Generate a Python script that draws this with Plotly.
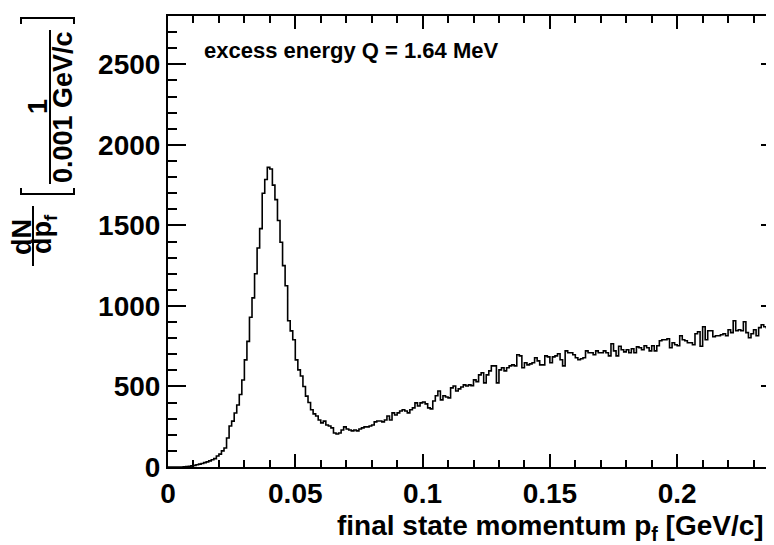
import numpy as np
import plotly.graph_objects as go

# ---------------- data ----------------
bin_width = 0.001          # GeV/c
x_min, x_max = 0.0, 0.24
y_min, y_max = 0, 2800

counts = [
    0, 0, 0, 0, 0, 0, 1, 3, 5, 7,
    10, 14, 18, 22, 27, 32, 38, 45, 52, 68,
    80, 100, 118, 180, 255, 285, 335, 385, 450, 540,
    665, 780, 930, 1050, 1200, 1360, 1480, 1700, 1785, 1860,
    1850, 1750, 1660, 1530, 1395, 1250, 1125, 908, 845, 790,
    665, 603, 565, 500, 440, 400, 355, 330, 317, 292,
    274, 285, 261, 255, 243, 211, 205, 211, 230, 249,
    236, 230, 224, 230, 224, 236, 243, 249, 249, 255,
    261, 280, 286, 286, 280, 292, 317, 292, 336, 323,
    336, 348, 355, 348, 336, 355, 367, 398, 379, 398,
    404, 392, 367, 361, 410, 442, 472, 417, 442, 435,
    429, 491, 503, 472, 485, 497, 510, 503, 510, 505,
    541, 530, 572, 585, 522, 572, 597, 628, 628, 522,
    603, 616, 597, 616, 628, 634, 628, 697, 690, 616,
    647, 634, 640, 647, 678, 659, 634, 634, 690, 684,
    647, 684, 690, 703, 666, 628, 721, 709, 709, 697,
    678, 666, 672, 678, 721, 709, 709, 697, 721, 709,
    709, 721, 709, 690, 765, 721, 690, 750, 728, 715,
    728, 709, 734, 709, 746, 740, 728, 753, 740, 721,
    753, 721, 753, 784, 790, 790, 796, 740, 771, 759,
    753, 815, 790, 784, 771, 771, 759, 827, 840, 750,
    871, 790, 846, 846, 809, 815, 815, 821, 827, 815,
    852, 834, 908, 846, 852, 846, 902, 834, 802, 827,
    852, 815, 865, 883, 871, 865, 877, 871, 890, 905,
]

x_tick_values = [0, 0.05, 0.1, 0.15, 0.2]
x_tick_labels = ["0", "0.05", "0.1", "0.15", "0.2"]
y_tick_values = [0, 500, 1000, 1500, 2000, 2500]
y_tick_labels = ["0", "500", "1000", "1500", "2000", "2500"]

label_text = "excess energy Q = 1.64 MeV"
x_title_text = "final state momentum p<sub>f</sub> [GeV/c]"
y_title_num = "dN"
y_title_den = "dp<sub>f</sub>"
y_unit_num = "1"
y_unit_den = "0.001 GeV/c"

# ---------------- figure ----------------
W, H = 774, 545
L, R, T, B = 160, 3, 8, 86
PW, PH = W - L - R, H - T - B
FONT = "Liberation Sans"


def px(x):
    return (x - L) / PW


def py(y):
    return (H - B - y) / PH


edges = x_min + bin_width * np.arange(len(counts) + 1)
yvals = list(counts) + [counts[-1]]

fig = go.Figure()
fig.add_trace(go.Scatter(
    x=edges, y=yvals, mode="lines", line=dict(color="black", width=1.6, shape="hv"),
    hoverinfo="skip", showlegend=False,
))

axis_common = dict(
    showline=True, linecolor="black", linewidth=2, mirror="allticks",
    ticks="inside", tickcolor="black", tickwidth=1.5,
    showgrid=False, zeroline=False,
    tickfont=dict(family=FONT, size=28, color="black", weight="bold"),
)

fig.update_xaxes(
    range=[x_min, x_max], tickmode="array", tickvals=x_tick_values, ticktext=x_tick_labels,
    ticklen=13, ticklabelstandoff=0,
    minor=dict(ticks="inside", ticklen=7, tickmode="linear", tick0=0, dtick=0.01,
               tickcolor="black", tickwidth=1.5, showgrid=False),
    **axis_common,
)
fig.update_yaxes(
    range=[y_min, y_max], tickmode="array", tickvals=y_tick_values, ticktext=y_tick_labels,
    ticklen=18, ticklabelstandoff=0,
    minor=dict(ticks="inside", ticklen=9, tickmode="linear", tick0=0, dtick=100,
               tickcolor="black", tickwidth=1.5, showgrid=False),
    **axis_common,
)

ann_font = dict(family=FONT, color="black", weight="bold")
annotations = [
    dict(text=label_text, x=px(194), y=py(42), xanchor="left", yanchor="middle",
         font=dict(size=22, **ann_font)),
    dict(text=x_title_text, x=px(758), y=py(519), xanchor="right", yanchor="middle",
         font=dict(size=28, **ann_font)),
    dict(text=y_title_num, x=px(14), y=py(229), textangle=-90, xanchor="center", yanchor="middle",
         font=dict(size=27, **ann_font)),
    dict(text=y_title_den, x=px(36), y=py(226), textangle=-90, xanchor="center", yanchor="middle",
         font=dict(size=27, **ann_font)),
    dict(text=y_unit_num, x=px(30), y=py(99), textangle=-90, xanchor="center", yanchor="middle",
         font=dict(size=27, **ann_font)),
    dict(text=y_unit_den, x=px(55), y=py(99), textangle=-90, xanchor="center", yanchor="middle",
         font=dict(size=27, **ann_font)),
]
for a in annotations:
    a.update(xref="paper", yref="paper", showarrow=False)

line_style = dict(color="black", width=2)
shapes = [
    # fraction bar dN/dp_f
    dict(type="line", x0=px(25), x1=px(25), y0=py(198), y1=py(258)),
    # fraction bar 1/(0.001 GeV/c)
    dict(type="line", x0=px(42), x1=px(42), y0=py(22), y1=py(176)),
    # bracket (rotated "[")
    dict(type="path", path=f"M {px(13)} {py(180)} L {px(13)} {py(186)} L {px(66)} {py(186)} L {px(66)} {py(180)}"),
    # bracket (rotated "]")
    dict(type="path", path=f"M {px(13)} {py(16)} L {px(13)} {py(10)} L {px(66)} {py(10)} L {px(66)} {py(16)}"),
]
for s in shapes:
    s.update(xref="paper", yref="paper", line=line_style)

fig.update_layout(
    width=W, height=H, margin=dict(l=L, r=R, t=T, b=B, autoexpand=False),
    paper_bgcolor="white", plot_bgcolor="white",
    annotations=annotations, shapes=shapes, showlegend=False,
)

fig.write_html("out.html")
